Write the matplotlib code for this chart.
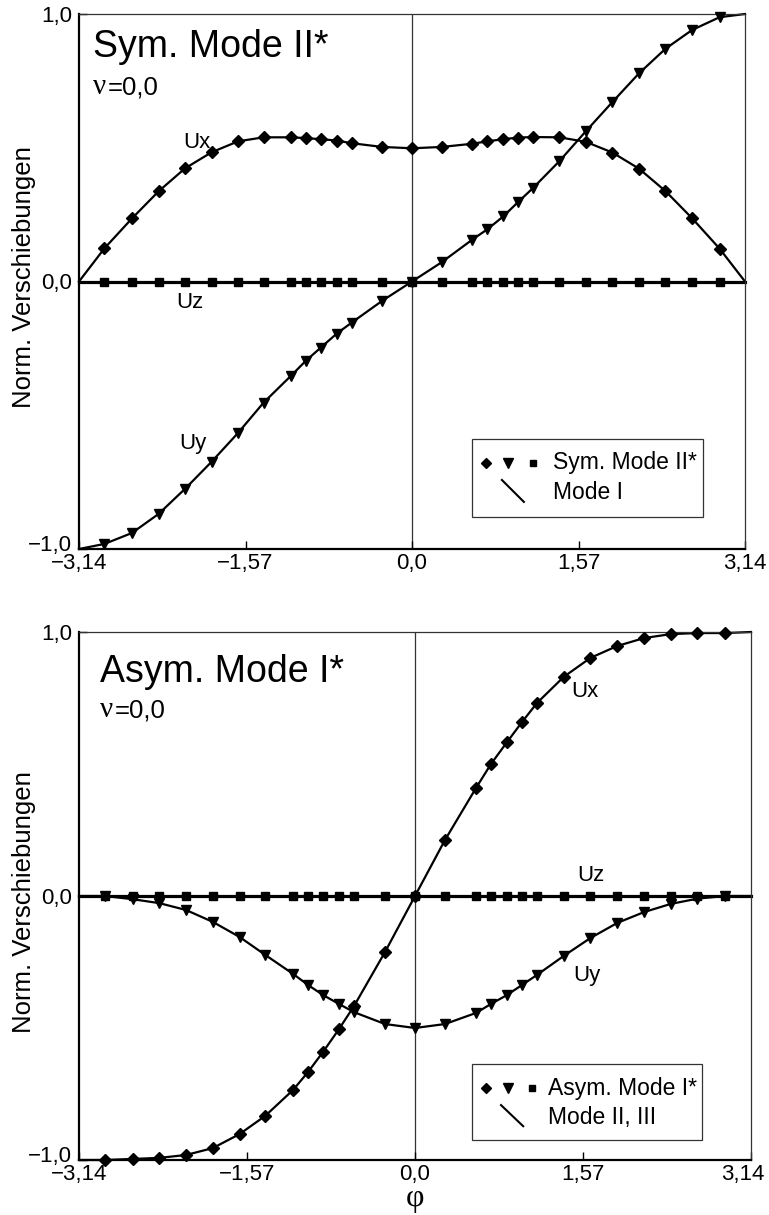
import matplotlib
matplotlib.use("Agg")
import matplotlib.pyplot as plt
from matplotlib.patches import Rectangle
from matplotlib.transforms import ScaledTranslation

plt.rcParams['font.family'] = ['Liberation Sans', 'DejaVu Sans']

# ---------------- data ----------------
phi_pts = [-2.90, -2.64, -2.39, -2.14, -1.89, -1.64, -1.40, -1.14, -1.00, -0.86, -0.71, -0.57, -0.28,
           0.00, 0.28, 0.57, 0.71, 0.86, 1.00, 1.14, 1.39, 1.64, 1.89, 2.14, 2.39, 2.64, 2.90]
phi_ends = [-3.14, 3.14]

# Top: Sym. Mode II*
sym_ux = [0.124, 0.236, 0.337, 0.423, 0.483, 0.524, 0.539, 0.539, 0.536, 0.532, 0.527, 0.517, 0.503,
          0.498, 0.503, 0.515, 0.524, 0.532, 0.538, 0.540, 0.539, 0.522, 0.482, 0.422, 0.338, 0.237, 0.123]
sym_uy = [-0.981, -0.940, -0.869, -0.775, -0.674, -0.566, -0.453, -0.352, -0.296, -0.247, -0.195, -0.154, -0.072,
          0.000, 0.072, 0.157, 0.195, 0.243, 0.297, 0.349, 0.450, 0.562, 0.671, 0.778, 0.870, 0.940, 0.988]
sym_uz = [0.0] * 27
sym_ux_ends = [0.0, 0.0]
sym_uy_ends = [-1.0, 1.0]
sym_uz_ends = [0.0, 0.0]

# Bottom: Asym. Mode I*
asym_ux = [-1.000, -0.996, -0.992, -0.981, -0.955, -0.902, -0.833, -0.735, -0.667, -0.591, -0.504, -0.417, -0.212,
           0.000, 0.212, 0.409, 0.500, 0.583, 0.659, 0.731, 0.830, 0.902, 0.947, 0.977, 0.992, 0.996, 0.996]
asym_uy = [0.000, -0.012, -0.027, -0.053, -0.098, -0.155, -0.223, -0.295, -0.337, -0.375, -0.409, -0.440, -0.485,
           -0.500, -0.485, -0.443, -0.409, -0.375, -0.337, -0.299, -0.227, -0.159, -0.102, -0.061, -0.030, -0.010, 0.000]
asym_uz = [0.0] * 27
asym_ux_ends = [-1.0, 1.0]
asym_uy_ends = [0.0, 0.0]
asym_uz_ends = [0.0, 0.0]

xticks = [-3.14, -1.57, 0.0, 1.57, 3.14]
xticklabels = ["\u22123,14", "\u22121,57", "0,0", "1,57", "3,14"]
yticks = [-1.0, 0.0, 1.0]
yticklabels = ["\u22121,0", "0,0", "1,0"]

# ---------------- figure ----------------
W, H = 769, 1215
fig = plt.figure(figsize=(W / 100, H / 100), dpi=100)

def ax_rect(l, r, t, b):
    return [l / W, 1 - b / H, (r - l) / W, (b - t) / H]

ax1 = fig.add_axes(ax_rect(79, 745, 14, 549))
ax2 = fig.add_axes(ax_rect(79, 751, 632, 1160))


def line_of(pts, ends):
    return [ends[0]] + list(pts) + [ends[1]]


def shift(label, dx_px, dy_px):
    label.set_transform(label.get_transform() +
                        ScaledTranslation(dx_px / 100, dy_px / 100, fig.dpi_scale_trans))


def draw_panel(ax, ux, uy, uz, uxe, uye, uze, title, leg1, leg2, lab_pos, title_xy, nu_xy, leg_geo):
    xl = line_of(phi_pts, phi_ends)
    ax.axvline(0, color='#333333', lw=0.9, zorder=1)
    # Mode lines (solid)
    ax.plot(xl, line_of(uz, uze), color='black', lw=2.3, zorder=2, clip_on=False)
    ax.plot(xl, line_of(ux, uxe), color='black', lw=1.6, zorder=2, clip_on=False)
    ax.plot(xl, line_of(uy, uye), color='black', lw=1.6, zorder=2, clip_on=False)
    # markers
    ax.plot(phi_pts, uz, ls='none', marker='s', ms=5.5, color='black', zorder=3, clip_on=False)
    ax.plot(phi_pts, ux, ls='none', marker='D', ms=6.5, color='black', zorder=4, clip_on=False)
    ax.plot(phi_pts, uy, ls='none', marker='v', ms=7.5, color='black', zorder=4, clip_on=False)

    ax.set_xlim(-3.14, 3.14)
    ax.set_ylim(-1.0, 1.0)
    ax.set_xticks(xticks)
    ax.set_xticklabels(xticklabels)
    ax.set_yticks(yticks)
    ax.set_yticklabels(yticklabels)
    ax.tick_params(axis='both', direction='in', length=6, width=1.0, labelsize=16, color='black')
    ax.tick_params(axis='x', pad=3)
    ax.tick_params(axis='y', pad=5)
    for s in ['left', 'bottom']:
        ax.spines[s].set_linewidth(1.6)
        ax.spines[s].set_color('black')
    for s in ['top', 'right']:
        ax.spines[s].set_linewidth(0.9)
        ax.spines[s].set_color('#333333')

    ax.set_ylabel("Norm. Verschiebungen", fontsize=18.5)
    ax.yaxis.label.set_va('center')

    for txt, (x, y) in zip(["Ux", "Uz", "Uy"], lab_pos):
        ax.text(x, y, txt, fontsize=16, ha='center', va='center', zorder=5)

    ax.text(title_xy[0], title_xy[1], title, transform=ax.transAxes, fontsize=27,
            ha='left', va='baseline')
    ax.text(nu_xy[0], nu_xy[1], "\u03bd", transform=ax.transAxes, fontsize=21,
            family=['Liberation Serif', 'DejaVu Serif'], ha='left', va='baseline')
    ax.annotate("=0,0", xy=nu_xy, xycoords='axes fraction', xytext=(10.5, 0),
                textcoords='offset points', fontsize=18.5, ha='left', va='baseline')

    # legend (manual)
    (bl, br, bt, bb, r1y, mx, tx, l2, r2y) = leg_geo
    ax.add_patch(Rectangle((bl, bb), br - bl, bt - bb, transform=ax.transAxes,
                           facecolor='white', edgecolor='#333333', lw=0.9, zorder=6))
    for m, x, ms in zip(['D', 'v', 's'], mx, [5, 7, 5]):
        ax.plot([x], [r1y], ls='none', marker=m, ms=ms, color='black',
                transform=ax.transAxes, zorder=7, clip_on=False)
    ax.text(tx, r1y, leg1, transform=ax.transAxes, fontsize=16.5, ha='left', va='center', zorder=7)
    ax.plot(l2[0], l2[1], color='black', lw=1.5, transform=ax.transAxes, zorder=7)
    ax.text(tx, r2y, leg2, transform=ax.transAxes, fontsize=16.5, ha='left', va='center', zorder=7)

    # small nudges like the reference
    ylabs = ax.get_yticklabels()
    shift(ylabs[0], 0, 6)


draw_panel(ax1, sym_ux, sym_uy, sym_uz, sym_ux_ends, sym_uy_ends, sym_uz_ends,
           "Sym. Mode II*", "Sym. Mode II*", "Mode I",
           [(-2.03, 0.52), (-2.09, -0.079), (-2.07, -0.606)],
           (0.021, 0.92), (0.021, 0.85),
           (0.590, 0.937, 0.206, 0.060, 0.161, [0.611, 0.644, 0.682], 0.712,
            ([0.635, 0.668], [0.129, 0.088]), 0.105))
ax1.yaxis.set_label_coords(-0.083, 0.509)

draw_panel(ax2, asym_ux, asym_uy, asym_uz, asym_ux_ends, asym_uy_ends, asym_uz_ends,
           "Asym. Mode I*", "Asym. Mode I*", "Mode II, III",
           [(1.59, 0.773), (1.64, 0.076), (1.61, -0.30)],
           (0.031, 0.905), (0.031, 0.839),
           (0.585, 0.927, 0.182, 0.038, 0.136, [0.606, 0.638, 0.674], 0.698,
            ([0.628, 0.661], [0.104, 0.064]), 0.080))
ax2.yaxis.set_label_coords(-0.082, 0.489)
ax2.set_xlabel("\u03c6", fontsize=23, family=['Liberation Serif', 'DejaVu Serif'])
ax2.xaxis.set_label_coords(0.5, -0.087)
ax2.xaxis.label.set_va('baseline')
shift(ax2.get_xticklabels()[-1], -8, 0)

fig.savefig("out.png", dpi=100)
